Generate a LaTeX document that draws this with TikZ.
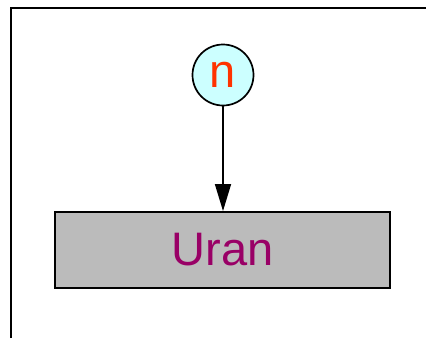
\documentclass[tikz,border=0pt]{standalone}
\usepackage{fontspec}
\setmainfont{Liberation Sans}
\usepackage{tikz}
\usetikzlibrary{arrows.meta, positioning, calc}
\usepackage{xcolor}

\definecolor{nodecyan}{HTML}{CCFFFF}
\definecolor{labelred}{HTML}{FF3300}
\definecolor{boxgray}{HTML}{BBBBBB}
\definecolor{labelpurple}{HTML}{990066}

\begin{document}
\begin{tikzpicture}[x=1pt, y=-1pt,
    particle/.style={circle, fill=nodecyan, draw=black, line width=1.7pt, inner sep=0pt, minimum size=61pt, text=labelred, font=\fontsize{47}{47}\selectfont},
    nucleus/.style={rectangle, fill=boxgray, draw=black, line width=1.9pt, inner sep=0pt, minimum width=335pt, minimum height=76pt, text=labelpurple, font=\fontsize{47}{47}\selectfont}]
      \useasboundingbox (0, 0) rectangle (426, 338);
      \draw[line width=2pt] (10.5, 338) -- (10.5, 7.5) -- (426, 7.5);

      \node[particle] (n) at (223, 75) {n};
      \node[nucleus] (uran) at (222.5, 250) {Uran};

      \draw[line width=1.6pt, -{Triangle[length=27pt, width=16pt]}] (n) -- (n |- uran.north);

    \end{tikzpicture}
\end{document}
